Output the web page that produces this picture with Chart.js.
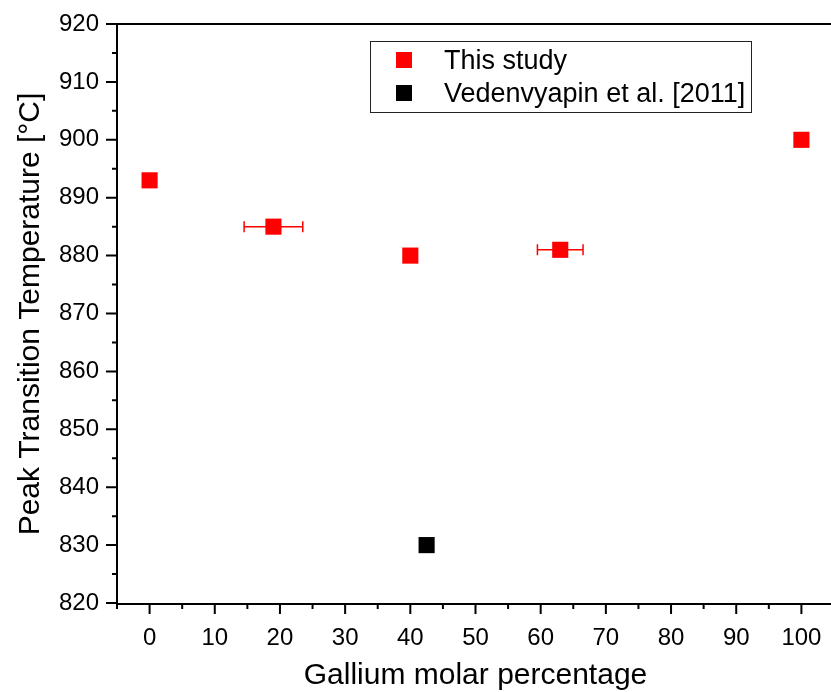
<!DOCTYPE html>
<html>
<head>
<meta charset="utf-8">
<script src="https://cdn.jsdelivr.net/npm/chart.js@4/dist/chart.umd.min.js"></script>
<style>
  html, body { margin: 0; padding: 0; background: #fff; overflow: hidden; }
  canvas { display: block; }
</style>
</head>
<body>
<canvas id="chart" width="840" height="692"></canvas>
<script>
// ─── Data ────────────────────────────────────────────────
const gaPct   = [0, 19, 40, 63, 100];        // This study, x
const peakT   = [893, 885, 880, 881, 900];   // This study, y
const gaErr   = [0, 4.5, 0, 3.5, 0];         // horizontal error (±)
const litPct  = [42.5];                      // Vedenvyapin et al.
const litT    = [830];
const xTicks  = [0, 10, 20, 30, 40, 50, 60, 70, 80, 90, 100];
const yTicks  = [820, 830, 840, 850, 860, 870, 880, 890, 900, 910, 920];
const seriesNames = ['This study', 'Vedenvyapin et al. [2011]'];
const xTitle = 'Gallium molar percentage';
const yTitle = 'Peak Transition Temperature [°C]';

const FONT = "'Liberation Sans', Arial, sans-serif";
const RED = '#ff0000', BLACK = '#000000';

// ─── Error bars (drawn under the markers) ────────────────
const errorBars = {
  id: 'errorBars',
  beforeDatasetsDraw(chart) {
    const { ctx, scales: { x, y } } = chart;
    ctx.save();
    ctx.strokeStyle = RED;
    ctx.lineWidth = 1.5;
    gaPct.forEach((v, i) => {
      const e = gaErr[i];
      if (!e) return;
      const x0 = x.getPixelForValue(v - e), x1 = x.getPixelForValue(v + e);
      const py = y.getPixelForValue(peakT[i]);
      ctx.beginPath();
      ctx.moveTo(x0, py); ctx.lineTo(x1, py);
      ctx.moveTo(x0, py - 5.5); ctx.lineTo(x0, py + 5.5);
      ctx.moveTo(x1, py - 5.5); ctx.lineTo(x1, py + 5.5);
      ctx.stroke();
    });
    ctx.restore();
  },
};

// ─── Axis frame, major/minor ticks, titles, legend ───────
const frame = {
  id: 'frame',
  afterDraw(chart) {
    const { ctx, chartArea: a, scales: { x, y } } = chart;
    ctx.save();
    ctx.strokeStyle = '#000';
    ctx.lineWidth = 2;
    ctx.beginPath();
    // axis lines + top line
    ctx.moveTo(a.left, a.top); ctx.lineTo(a.left, a.bottom + 1); ctx.lineTo(a.right, a.bottom + 1);
    ctx.moveTo(a.left - 1, a.top); ctx.lineTo(a.right, a.top);
    // y ticks
    yTicks.forEach((v, i) => {
      const py = y.getPixelForValue(v);
      ctx.moveTo(a.left - 11, py); ctx.lineTo(a.left, py);
      if (i < yTicks.length - 1) {
        const pm = y.getPixelForValue(v + 5);
        ctx.moveTo(a.left - 5, pm); ctx.lineTo(a.left, pm);
      }
    });
    // x ticks
    xTicks.forEach((v) => {
      const px = x.getPixelForValue(v);
      ctx.moveTo(px, a.bottom); ctx.lineTo(px, a.bottom + 11);
      const pm = x.getPixelForValue(v - 5);
      ctx.moveTo(pm, a.bottom); ctx.lineTo(pm, a.bottom + 6);
    });
    const pe = x.getPixelForValue(105);
    if (pe < chart.width) { ctx.moveTo(pe, a.bottom); ctx.lineTo(pe, a.bottom + 6); }
    ctx.stroke();

    // axis titles
    ctx.fillStyle = '#000';
    ctx.font = `30px ${FONT}`;
    ctx.textAlign = 'center';
    ctx.textBaseline = 'alphabetic';
    ctx.fillText(xTitle, (x.getPixelForValue(0) + x.getPixelForValue(100)) / 2, 684);
    ctx.save();
    ctx.translate(39, 314);
    ctx.rotate(-Math.PI / 2);
    ctx.fillText(yTitle, 0, 0);
    ctx.restore();

    // legend box
    ctx.lineWidth = 1;
    ctx.strokeStyle = '#222';
    ctx.strokeRect(370.5, 41.5, 381, 71);
    const entries = [[RED, 60], [BLACK, 93]];
    ctx.font = `27px ${FONT}`;
    ctx.textAlign = 'left';
    entries.forEach(([c, cy], i) => {
      ctx.fillStyle = c;
      ctx.fillRect(396, cy - 8, 16, 16);
      ctx.fillStyle = '#000';
      ctx.fillText(seriesNames[i], 444, cy + 9);
    });
    ctx.restore();
  },
};

// ─── Chart ───────────────────────────────────────────────
new Chart(document.getElementById('chart'), {
  type: 'scatter',
  data: {
    datasets: [
      {
        label: seriesNames[0],
        data: gaPct.map((v, i) => ({ x: v, y: peakT[i] })),
        pointStyle: 'rect', pointRadius: 11.4, pointHoverRadius: 11.4,
        backgroundColor: RED, borderWidth: 0,
      },
      {
        label: seriesNames[1],
        data: litPct.map((v, i) => ({ x: v, y: litT[i] })),
        pointStyle: 'rect', pointRadius: 11.4, pointHoverRadius: 11.4,
        backgroundColor: BLACK, borderWidth: 0,
      },
    ],
  },
  options: {
    responsive: false,
    animation: false,
    layout: { autoPadding: false, padding: { left: 0, top: 24, right: 6, bottom: 0 } },
    scales: {
      x: {
        type: 'linear', min: -5, max: 105,
        afterBuildTicks: s => { s.ticks = xTicks.map(v => ({ value: v })); },
        afterFit: s => { s.height = 89; s.paddingLeft = 0; s.paddingRight = 0; },
        grid: { display: false, drawTicks: false },
        border: { display: false },
        ticks: { color: '#000', font: { family: FONT, size: 24 }, padding: 21, maxRotation: 0 },
      },
      y: {
        type: 'linear', min: 820, max: 920,
        afterBuildTicks: s => { s.ticks = yTicks.map(v => ({ value: v })); },
        afterFit: s => { s.width = 117; s.paddingTop = 0; s.paddingBottom = 0; },
        grid: { display: false, drawTicks: false },
        border: { display: false },
        ticks: { color: '#000', font: { family: FONT, size: 24 }, padding: 18 },
      },
    },
    plugins: { legend: { display: false }, tooltip: { enabled: false } },
  },
  plugins: [errorBars, frame],
});
</script>
</body>
</html>
